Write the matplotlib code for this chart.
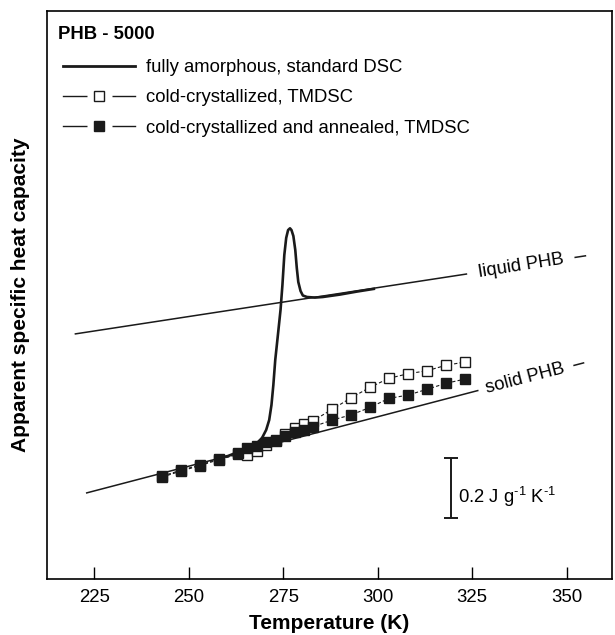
import matplotlib
matplotlib.use("Agg")
import matplotlib.pyplot as plt
from matplotlib.lines import Line2D
from matplotlib.legend_handler import HandlerTuple

plt.rcParams['font.family'] = ['Liberation Sans', 'DejaVu Sans']

# fully amorphous, standard DSC (T in K, cp in J/(g K))
amorph_T = [258.0, 260.4, 263.0, 265.7, 267.8, 269.4, 270.5, 271.3, 271.9, 272.4,
            272.9, 273.6, 274.3, 274.8, 275.3, 275.8, 276.3, 276.8, 277.2, 277.7,
            278.2, 278.6, 279.0, 279.6, 280.2, 281.3, 283.4, 285.5, 290.0, 294.5, 299.0]
amorph_cp = [1.203, 1.210, 1.223, 1.237, 1.250, 1.270, 1.297, 1.330, 1.380, 1.447,
             1.530, 1.613, 1.697, 1.780, 1.880, 1.937, 1.963, 1.969, 1.963, 1.943,
             1.897, 1.837, 1.790, 1.760, 1.745, 1.740, 1.738, 1.740, 1.748, 1.758, 1.767]

# TMDSC data
tm_T = [243, 248, 253, 258, 263, 265.5, 268, 270.5, 273, 275.5, 278, 280.5, 283,
        288, 293, 298, 303, 308, 313, 318, 323]
cc_cp = [1.140, 1.160, 1.178, 1.198, 1.215, 1.213, 1.228, 1.247, 1.260, 1.283, 1.303,
         1.315, 1.328, 1.366, 1.404, 1.439, 1.469, 1.484, 1.494, 1.512, 1.523]
ann_cp = [1.143, 1.163, 1.180, 1.201, 1.221, 1.236, 1.243, 1.256, 1.263, 1.277, 1.289,
          1.297, 1.308, 1.330, 1.347, 1.372, 1.402, 1.413, 1.432, 1.452, 1.466]

# baselines
liquid_T = [220, 323.5]
liquid_cp = [1.617, 1.8165]
solid_T = [223, 326.5]
solid_cp = [1.087, 1.428]

xticks = [225, 250, 275, 300, 325, 350]

fig = plt.figure(figsize=(6.15, 6.35), dpi=100)
ax = fig.add_axes([0.0759, 0.0882, 0.919, 0.8945])

ax.plot(liquid_T, liquid_cp, color='#1a1a1a', lw=1.1, zorder=1)
ax.plot(solid_T, solid_cp, color='#1a1a1a', lw=1.1, zorder=1)
ax.plot(amorph_T, amorph_cp, color='#1a1a1a', lw=1.9, zorder=2)

ax.plot(tm_T, cc_cp, ls=(0, (3, 2)), lw=0.8, color='#1a1a1a', marker='s', ms=6.5,
        mfc='white', mec='#1a1a1a', mew=1.0, zorder=3)
ax.plot(tm_T, ann_cp, ls=(0, (3, 2)), lw=0.8, color='#1a1a1a', marker='s', ms=6.5,
        mfc='#1a1a1a', mec='#1a1a1a', mew=1.0, zorder=4)


# labels on the extension of the baselines
def ext(T, cp, t):
    return cp[0] + (cp[1] - cp[0]) * (t - T[0]) / (T[1] - T[0])


ax.text(337.9, ext(liquid_T, liquid_cp, 337.9), 'liquid PHB', fontsize=13.3,
        rotation=9, rotation_mode='anchor', ha='center', va='center')
ax.plot([352.3, 355.0], [ext(liquid_T, liquid_cp, 352.3), ext(liquid_T, liquid_cp, 355.0)],
        color='#1a1a1a', lw=1.1)
ax.text(339.0, ext(solid_T, solid_cp, 339.0), 'solid PHB', fontsize=13.3,
        rotation=14.5, rotation_mode='anchor', ha='center', va='center')
ax.plot([352.0, 354.5], [ext(solid_T, solid_cp, 352.0), ext(solid_T, solid_cp, 354.5)],
        color='#1a1a1a', lw=1.1)

# scale bar 0.2 J/(g K)
ax.errorbar([319.4], [1.1033], yerr=[0.1], fmt='none', ecolor='#1a1a1a',
            elinewidth=1.4, capsize=5, capthick=1.4)
ax.text(321.2, 1.073, '0.2 J g$^{\\mathregular{\u20101}}$ K$^{\\mathregular{\u20101}}$',
        fontsize=13.3, ha='left', va='center')

# legend
ax.text(0.0205, 0.959, 'PHB - 5000', transform=ax.transAxes, fontsize=13.3,
        fontweight='bold', ha='left', va='center')
line_h = Line2D([], [], color='#1a1a1a', lw=1.0)
gap_h = Line2D([], [], ls='none', marker='s', ms=18, mfc='white', mec='none')
open_h = Line2D([], [], ls='none', marker='s', ms=7.5, mfc='white', mec='#1a1a1a', mew=1.0)
fill_h = Line2D([], [], ls='none', marker='s', ms=7.5, mfc='#1a1a1a', mec='#1a1a1a', mew=1.0)
handles = [
    Line2D([], [], color='#1a1a1a', lw=2.0),
    (line_h, gap_h, open_h),
    (line_h, gap_h, fill_h),
]
labels = ['fully amorphous, standard DSC', 'cold-crystallized, TMDSC',
          'cold-crystallized and annealed, TMDSC']
leg = ax.legend(handles, labels, loc='upper left', bbox_to_anchor=(0.0283, 0.9155),
                frameon=False, fontsize=13.3, handlelength=3.9, handletextpad=0.6,
                labelspacing=0.72, borderaxespad=0, borderpad=0,
                handler_map={tuple: HandlerTuple(ndivide=1, pad=0)})

ax.set_xlim(212.4, 362)
ax.set_ylim(0.8, 0.8 + 568 / 300)
ax.set_xticks(xticks)
ax.set_yticks([])
ax.tick_params(axis='x', direction='in', length=9, width=1.0, labelsize=13.4, pad=7)
for s in ax.spines.values():
    s.set_linewidth(1.2)

ax.set_xlabel('Temperature (K)', fontsize=15, fontweight='bold', labelpad=6)
ax.set_ylabel('Apparent specific heat capacity', fontsize=15, fontweight='bold', labelpad=12)

fig.savefig('out.png', dpi=100)
